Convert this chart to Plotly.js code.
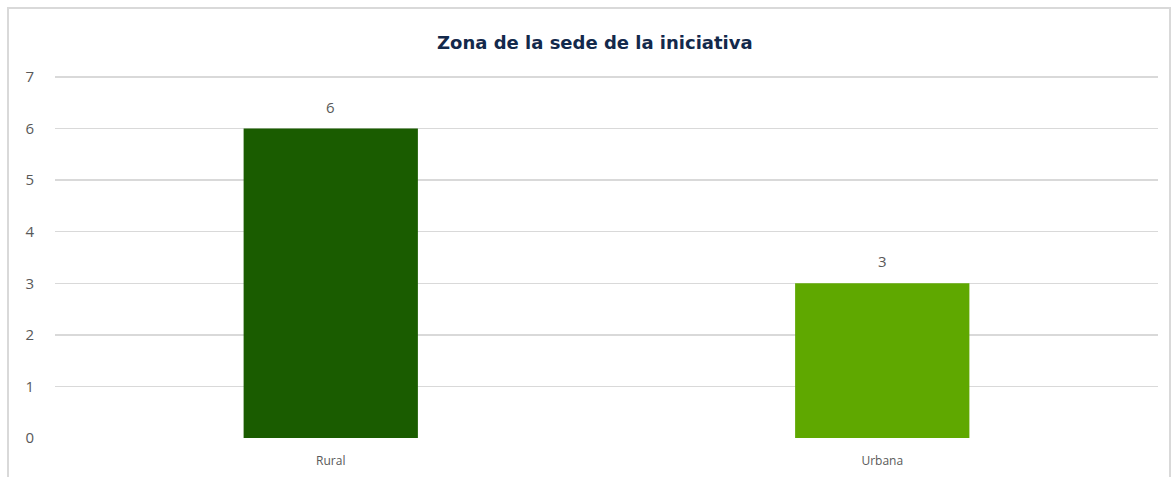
<!DOCTYPE html>
<html>
<head>
<meta charset="utf-8">
<script src="https://cdn.plot.ly/plotly-3.0.1.min.js"></script>
<style>
  html, body { margin: 0; padding: 0; background: #fff; }
  #chart { width: 1171px; height: 477px; }
</style>
</head>
<body>
<div id="chart"></div>
<script>
// zona de la sede
var categories = ['Rural', 'Urbana'];
var counts = [6, 3];
var barColors = ['#1a5c00', '#5fa800'];
var yTicks = [0, 1, 2, 3, 4, 5, 6, 7];

var trace = {
  x: categories,
  y: counts,
  type: 'bar',
  marker: {color: barColors},
  hoverinfo: 'none'
};

// labels over the bars
var labels = [];
for (var i = 0; i < categories.length; i++) {
  labels.push({
    x: categories[i],
    y: counts[i],
    text: String(counts[i]),
    showarrow: false,
    yanchor: 'bottom',
    yshift: 10,
    font: {family: 'Open Sans', size: 15, color: '#595959'}
  });
}

var layout = {
  width: 1171,
  height: 477,
  margin: {l: 55, r: 13, t: 76, b: 39},
  paper_bgcolor: '#ffffff',
  plot_bgcolor: '#ffffff',
  showlegend: false,
  bargap: 0.684,
  title: {
    text: '<b>Zona de la sede de la iniciativa</b>',
    font: {family: 'DejaVu Sans', size: 18, color: '#13294b'},
    x: 0.508,
    xanchor: 'center',
    y: 0.91,
    yanchor: 'middle'
  },
  xaxis: {
    showline: false,
    showgrid: false,
    zeroline: false,
    ticks: '',
    ticklabelstandoff: 14,
    tickfont: {family: 'Open Sans', size: 12, color: '#595959'}
  },
  yaxis: {
    range: [0, 7.02],
    tickvals: yTicks,
    showline: false,
    showgrid: true,
    gridcolor: '#d9d9d9',
    gridwidth: 1.5,
    zeroline: false,
    ticks: '',
    ticklabelstandoff: 20,
    tickfont: {family: 'Open Sans', size: 15, color: '#595959'}
  },
  annotations: labels,
  shapes: [{
    type: 'rect',
    xref: 'paper', yref: 'paper',
    x0: -0.0426, x1: 1.0109,
    y0: -0.2, y1: 1.188,
    line: {color: '#d9d9d9', width: 2},
    layer: 'below'
  }]
};

Plotly.newPlot('chart', [trace], layout, {displayModeBar: false, staticPlot: true});
</script>
</body>
</html>
